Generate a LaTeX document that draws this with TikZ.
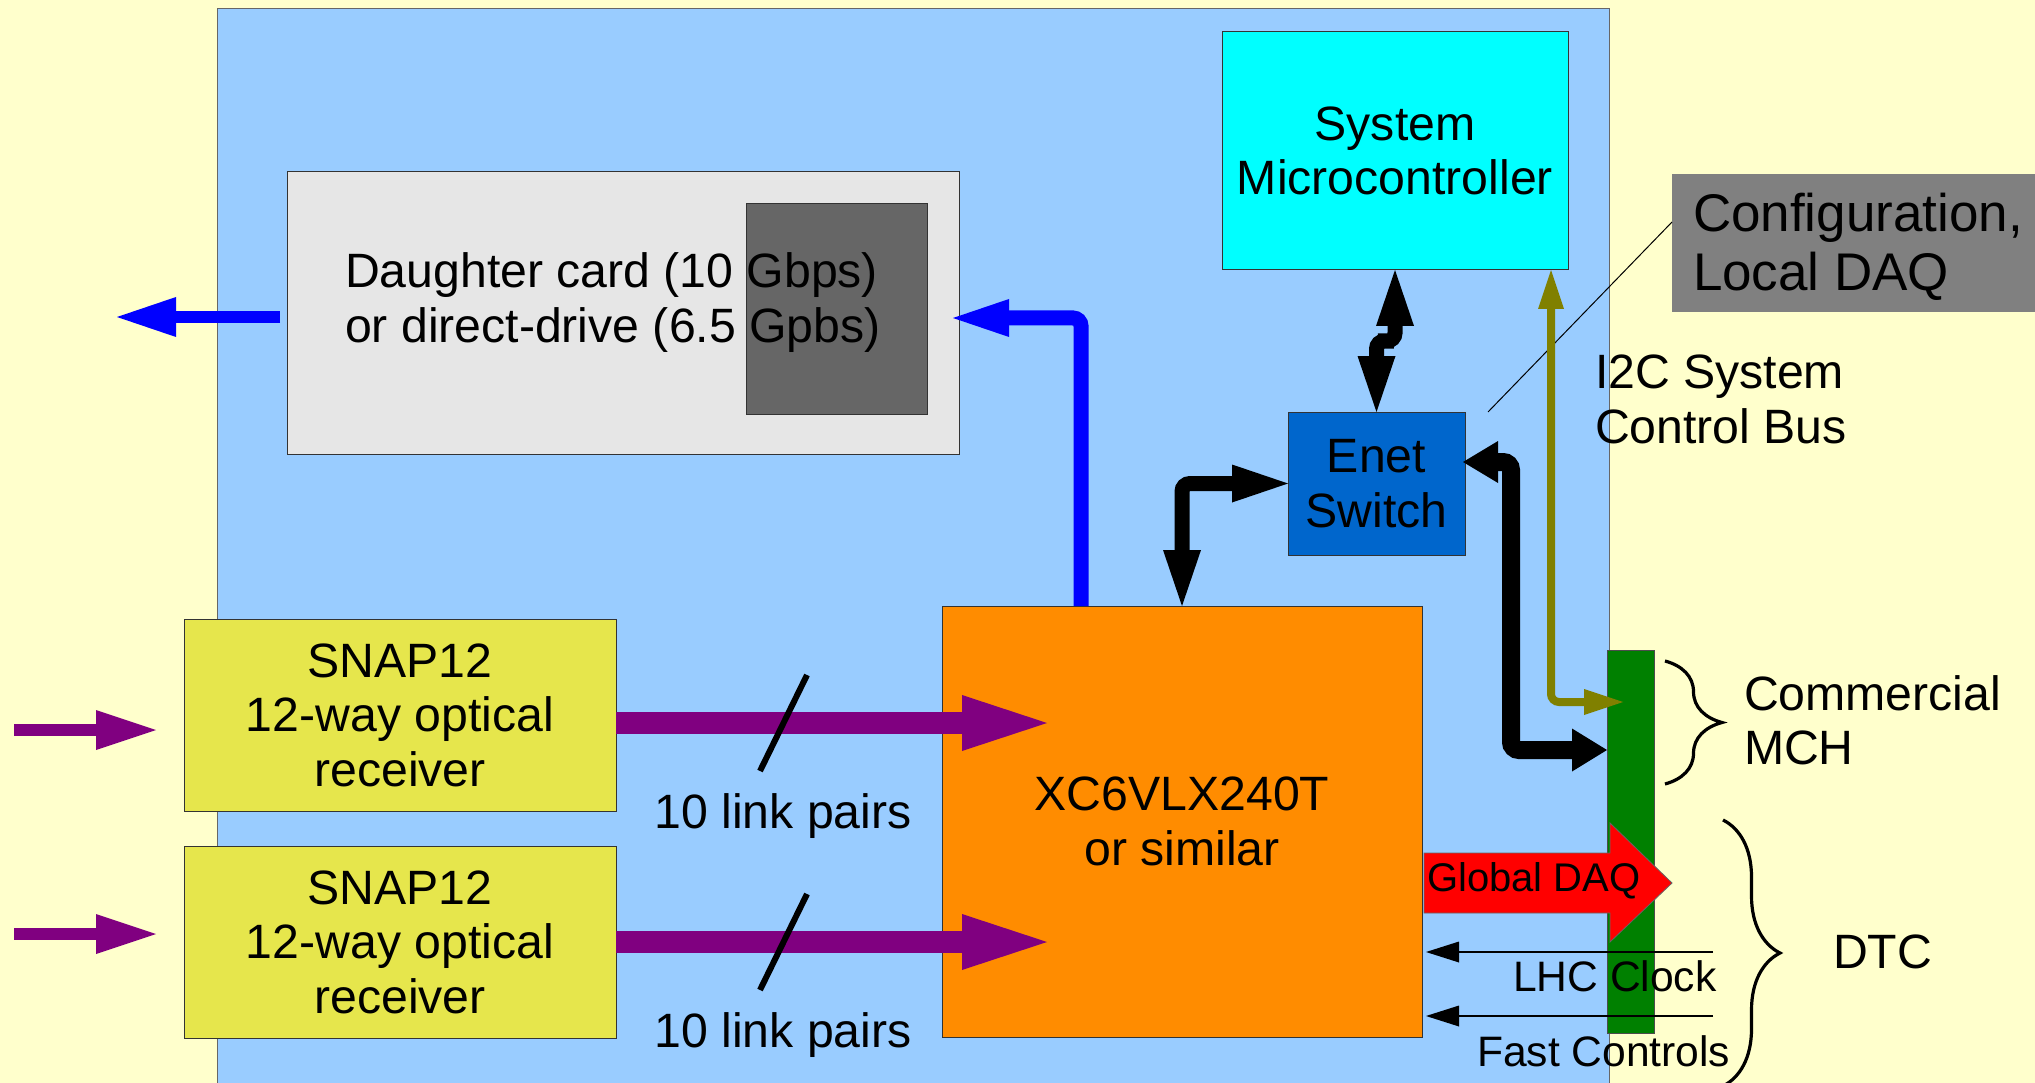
\documentclass[tikz,border=0pt]{standalone}
\usepackage{fontspec}
\setmainfont{Liberation Sans}
\usetikzlibrary{arrows.meta,calc,decorations.pathreplacing}
\definecolor{bgyel}{HTML}{FFFFCC}
\definecolor{board}{HTML}{99CCFF}
\definecolor{dcgray}{HTML}{E6E6E6}
\definecolor{dkgray}{HTML}{666666}
\definecolor{cfggray}{HTML}{808080}
\definecolor{cyanbox}{HTML}{00FFFF}
\definecolor{enetblue}{HTML}{0066CC}
\definecolor{fpgaor}{HTML}{FF8C00}
\definecolor{snapyel}{HTML}{E6E64C}
\definecolor{grnbar}{HTML}{008000}
\definecolor{purp}{HTML}{800080}
\definecolor{olivc}{HTML}{808000}
\definecolor{arrblue}{HTML}{0000FF}
\definecolor{redarr}{HTML}{FF0000}
\begin{document}
\begin{tikzpicture}[x=1pt,y=-1pt,
  every node/.style={font=\fontsize{48.2}{54.5}\selectfont, inner sep=0pt, outer sep=0pt},
  box/.style={draw=black!80, line width=1pt, align=center},
  smallfont/.style={font=\fontsize{42.6}{47}\selectfont},
  daqfont/.style={font=\fontsize{40}{46}\selectfont},
  conn/.style={rounded corners=8pt},
  bluecon/.style={conn, draw=arrblue, line width=15pt, -{Triangle[length=56pt,width=38pt,line width=0pt]}},
  blueout/.style={draw=arrblue, line width=12pt, -{Triangle[length=59pt,width=40pt,line width=0pt]}},
  blkcon/.style={conn, draw=black, line width=15pt, {Triangle[length=56pt,width=38pt,line width=0pt]}-{Triangle[length=56pt,width=38pt,line width=0pt]}},
  blkbus/.style={conn, draw=black, line width=18pt, {Triangle[length=35pt,width=42pt,line width=0pt]}-{Triangle[length=35pt,width=43pt,line width=0pt]}},
  olivcon/.style={conn, draw=olivc, line width=8pt, {Triangle[length=39pt,width=26pt,line width=0pt]}-{Triangle[length=39pt,width=26pt,line width=0pt]}},
  purpbig/.style={draw=purp, line width=22pt, -{Triangle[length=85pt,width=56pt,line width=0pt]}},
  purpin/.style={draw=purp, line width=12pt, -{Triangle[length=60pt,width=40pt,line width=0pt]}},
  thinarr/.style={draw=black, line width=1.5pt, -{Triangle[length=33pt,width=21pt,line width=0pt]}},
  slash/.style={draw=black, line width=6pt},
  bracestyle/.style={draw=black, line width=3.2pt, decorate, decoration={brace, amplitude=57pt}}
]
\useasboundingbox (0,0) rectangle (2035,1083);
\clip (0,0) rectangle (2035,1083);
\fill[bgyel] (0,0) rectangle (2035,1083);
% board
\draw[fill=board, draw=black!60, line width=1pt] (217,9) rectangle (1609,1100);

% boxes
\node[box, fill=dcgray, minimum width=672pt, minimum height=282pt] (daughter) at (623,313) {};
\node[box, fill=dkgray, minimum width=181pt, minimum height=210pt] (dark) at (836.5,309) {};
\node[anchor=base west] (dctext) at (345,288) {\vtop{\hbox{Daughter card (10 Gbps)}\hbox{or direct-drive (6.5 Gpbs)}}};

\node[box, fill=cyanbox, minimum width=346pt, minimum height=238pt] (micro) at (1395,151) {System\\Microcontroller};
\node[fill=cfggray, minimum width=370pt, minimum height=138pt, anchor=north west] (config) at (1672,174) {};
\node[anchor=base west, font=\fontsize{53}{59}\selectfont] (cfgtext) at (1693,232) {\vtop{\hbox{Configuration,}\hbox{Local DAQ}}};

\node[box, fill=enetblue, minimum width=177pt, minimum height=143pt] (enet) at (1376.5,483.5) {Enet\\Switch};
\node[box, fill=fpgaor, minimum width=480pt, minimum height=431pt] (fpga) at (1182,821.5) {XC6VLX240T\\or similar};
\node[box, fill=snapyel, minimum width=432pt, minimum height=192pt] (snapa) at (400,715) {SNAP12\\12-way optical\\receiver};
\node[box, fill=snapyel, minimum width=432pt, minimum height=192pt] (snapb) at (400,942) {SNAP12\\12-way optical\\receiver};
\node[draw=black!70, line width=1pt, fill=grnbar, minimum width=47pt, minimum height=383pt] (green) at (1630.5,841.5) {};

% leader line
\draw[black, line width=1pt] ($(enet.north east)+(23,0)$) -- ($(config.west)+(0,-21)$);

% connectors
\coordinate (dcout) at (117,317);
\draw[blueout] ($(daughter.west)+(-7,4)$) -- (dcout);
\draw[bluecon] ($(fpga.north)+(-101,0)$) |- ($(daughter.east)+(-6,5)$);
\draw[blkcon] (micro.south) |- ($(micro.south)!0.5!(enet.north)$) -| (enet.north);
\draw[blkcon] (fpga.north) |- (enet.west);
\draw[blkbus] ($(enet.east)+(-2,-21.5)$) -| ($(green.west)+(-96,-91.5)$) -- ($(green.west)+(0,-91.5)$);
\draw[olivcon] ($(micro.south)+(156,0)$) |- ($(green.west)+(16,-139.5)$);

\coordinate (ina) at (14,730);
\coordinate (inb) at (14,934);
\draw[purpin] (ina) -- ($(snapa.west)+(-28,15)$);
\draw[purpin] (inb) -- ($(snapb.west)+(-28,-8)$);
\draw[purpbig] ($(snapa.east)+(0,8)$) -- ($(fpga.west)+(105,-98.5)$);
\draw[purpbig] (snapb.east) -- ($(fpga.west)+(105,120.5)$);
\draw[slash] (807,675) -- (760,771);
\draw[slash] (807,894) -- (760,990);
\node[anchor=base] (lpa) at (783,828) {10 link pairs};
\node[anchor=base] (lpb) at (783,1047) {10 link pairs};

% global DAQ block arrow
\filldraw[fill=redarr, draw=black!60, line width=0.8pt]
  (1424,853) -- (1610,853) -- (1610,823) -- (1672,883) -- (1610,942) -- (1610,913) -- (1424,913) -- cycle;
\node[daqfont, anchor=base west] (gdaq) at (1427,891) {Global DAQ};

% clock / fast control
\coordinate (clkin) at (1713,952);
\coordinate (fcin) at (1713,1016);
\draw[thinarr] (clkin) -- ($(fpga.east)+(4,130.5)$);
\draw[thinarr] (fcin) -- ($(fpga.east)+(4,194.5)$);
\node[smallfont, anchor=base west] (lhc) at (1513,991) {LHC Clock};
\node[smallfont, anchor=base west] (fast) at (1477,1066) {Fast Controls};

% labels
\node[anchor=base west] (i2c) at (1595,388.5) {\vtop{\hbox{I2C System}\hbox{Control Bus}}};
\node[anchor=base west] (mch) at (1744,710) {\vtop{\hbox{Commercial}\hbox{MCH}}};
\node[anchor=base west] (dtc) at (1833,968) {DTC};

% braces
\draw[bracestyle] (1665,661) -- (1665,784);
\draw[bracestyle] (1723,820) -- (1723,1086);
\end{tikzpicture}
\end{document}
